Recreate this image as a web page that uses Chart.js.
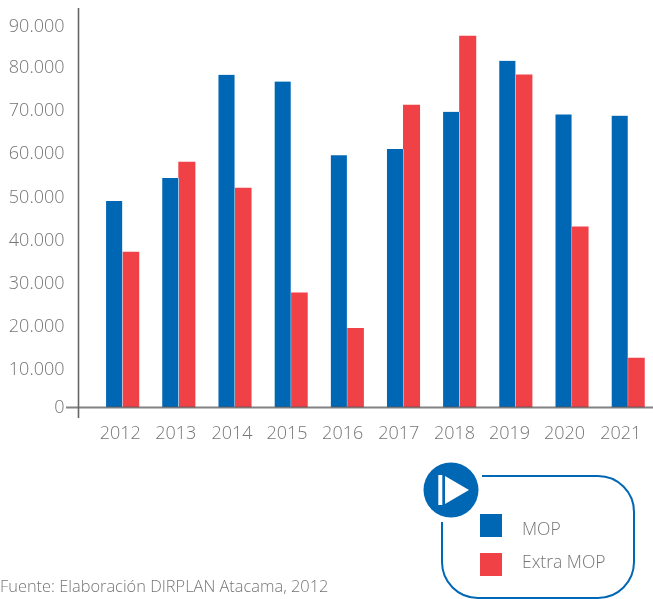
<!DOCTYPE html>
<html><head><meta charset="utf-8">
<style>html,body{margin:0;padding:0;background:#fff}#w{position:relative;width:653px;height:599px}</style>
<script src="https://cdn.jsdelivr.net/npm/chart.js@4"></script>
</head><body><div id="w"><canvas id="c" width="653" height="599"></canvas></div>
<script>
const years = [2012,2013,2014,2015,2016,2017,2018,2019,2020,2021];
const mop = [48500,53900,78100,76500,59200,60700,69400,81400,68800,68500];
const extraMop = [36500,57600,51500,26900,18600,71000,87200,78100,42400,11600];
const yTickLabels = ['0','10.000','20.000','30.000','40.000','50.000','60.000','70.000','80.000','90.000'];
// where the picture prints its tick labels, in axis units
const yLabelAnchors = [-200,8830,18830,28930,39030,49130,59530,69530,79760,89300];
const xLabelAnchors = [2011.96,2012.95,2013.95,2014.93,2015.92,2016.92,2017.91,2018.89,2019.87,2020.87];
const BLUE='#0067b5', RED='#f04146', GRAY='#757575', FONT='"Open Sans", sans-serif';

const decor = {
  id:'decor',
  afterDatasetsDraw(ch){
    const c=ch.ctx, x=ch.scales.x, y=ch.scales.y, a=ch.chartArea;
    c.save();
    c.strokeStyle='rgba(90,90,90,0.75)'; c.lineWidth=2;
    c.beginPath(); c.moveTo(66,y.getPixelForValue(0)); c.lineTo(653,y.getPixelForValue(0)); c.stroke();
    c.strokeStyle='#666'; c.lineWidth=1.6;
    c.beginPath(); c.moveTo(a.left,a.top); c.lineTo(a.left,418); c.stroke();
    // legend box
    c.strokeStyle=BLUE; c.lineWidth=2;
    c.beginPath(); c.moveTo(482,476);
    c.arcTo(634,476,634,598,36); c.arcTo(634,598,442,598,36);
    c.arcTo(442,598,442,476,36); c.lineTo(442,522); c.stroke();
    c.fillStyle=BLUE; c.beginPath(); c.arc(451,490,27.5,0,Math.PI*2); c.fill();
    c.fillStyle='#fff'; c.fillRect(438.3,475,4,30);
    c.beginPath(); c.moveTo(445,476); c.lineTo(469,490); c.lineTo(445,504); c.closePath(); c.fill();
    const ds=ch.data.datasets;
    c.textBaseline='middle'; c.textAlign='left'; c.font='300 17.5px '+FONT;
    [[514,530],[553,563]].forEach((p,i)=>{
      c.fillStyle=ds[i].backgroundColor; c.fillRect(480,p[0],22,23);
      c.fillStyle=GRAY; c.fillText(ds[i].label,522,p[1]);
    });
    c.font='300 16.4px '+FONT;
    c.fillText('Fuente: Elaboración DIRPLAN Atacama, 2012',0,587);
    c.restore();
  }
};

new Chart(document.getElementById('c'),{
  type:'bar',
  data:{datasets:[
    {label:'MOP',data:years.map((v,i)=>({x:v,y:mop[i]})),backgroundColor:BLUE,barThickness:16.4,
      borderColor:'#fff',borderWidth:{left:0,right:0.6,top:0,bottom:0},borderSkipped:false},
    {label:'Extra MOP',data:years.map((v,i)=>({x:v,y:extraMop[i]})),backgroundColor:RED,barThickness:16.4}
  ]},
  options:{
    responsive:false,animation:false,
    layout:{padding:{top:8,left:0,right:0,bottom:0}},
    plugins:{legend:{display:false},tooltip:{enabled:false}},
    scales:{
      x:{type:'linear',offset:false,min:2011.217,max:2021.445,
        grid:{display:false,drawTicks:false},border:{display:false},
        afterFit:s=>{s.height=191.5;s.paddingLeft=0;s.paddingRight=0},
        afterBuildTicks:s=>{s.ticks=xLabelAnchors.map(v=>({value:v}))},
        ticks:{autoSkip:false,maxRotation:0,color:GRAY,padding:16,font:{family:FONT,size:18,weight:'300'},
          callback:(v,i)=>String(years[i])}},
      y:{type:'linear',min:0,max:93780,
        grid:{display:false,drawTicks:false},border:{display:false},
        afterFit:s=>{s.width=78.5;s.paddingTop=0;s.paddingBottom=0},
        afterBuildTicks:s=>{s.ticks=yLabelAnchors.map(v=>({value:v}))},
        ticks:{autoSkip:false,color:GRAY,padding:14,font:{family:FONT,size:18,weight:'300'},
          callback:(v,i)=>yTickLabels[i]}}
    }
  },
  plugins:[decor]
});
</script></body></html>
